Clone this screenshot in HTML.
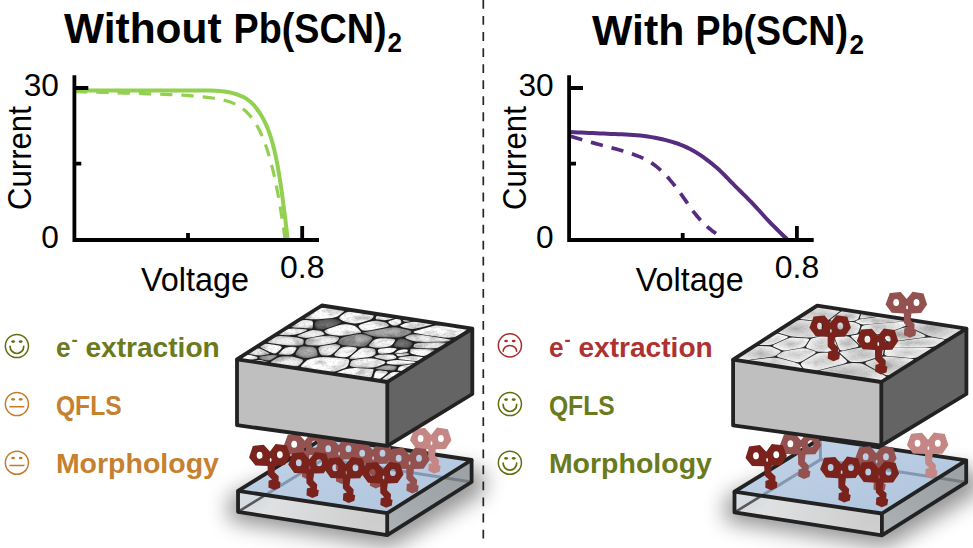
<!DOCTYPE html>
<html lang="en"><head><meta charset="utf-8"><title>Pb(SCN)2 additive: J-V and interface schematic</title>
<style>html,body{margin:0;padding:0;background:#fff}body{width:973px;height:548px;overflow:hidden}svg{display:block}text{font-family:"Liberation Sans",Arial,sans-serif}.b{font-weight:bold}</style></head><body>
<svg width="973" height="548" viewBox="0 0 973 548">
<rect width="973" height="548" fill="#fff"/>
<defs><path id="mol" fill-rule="evenodd" d="M-0.4,12.6 L3.8,1.2 L14.7,0.3 L20.7,7.3 L26.6,0 L37.5,1.6 L41.1,12.6 L35.1,21.3 L25.4,21.6 L24.6,28.2 L28.6,32.4 L28.3,37.4 L30.2,38.3 L29.4,43.8 L23.7,46 L17.9,43.2 L18.3,36.6 L21.9,35.4 L17.9,31.2 L17.8,21.6 L5.7,20.9ZM7.3,10.8 a2.9,3.5 0 1,0 5.8,0 a2.9,3.5 0 1,0 -5.8,0ZM27.6,10.8 a2.9,3.5 0 1,0 5.8,0 a2.9,3.5 0 1,0 -5.8,0ZM20.2,15.6 a0.9,1.9 0 1,0 1.8,0 a0.9,1.9 0 1,0 -1.8,0Z"/><radialGradient id="ga" cx="0.5" cy="0.5" r="0.62" fx="0.45" fy="0.45"><stop offset="0" stop-color="#ffffff"/><stop offset="0.6" stop-color="#ffffff"/><stop offset="1" stop-color="#dadada"/></radialGradient><radialGradient id="gb" cx="0.5" cy="0.5" r="0.62" fx="0.68" fy="0.36"><stop offset="0" stop-color="#ffffff"/><stop offset="0.6" stop-color="#f6f6f6"/><stop offset="1" stop-color="#b4b4b4"/></radialGradient><radialGradient id="ge" cx="0.5" cy="0.5" r="0.62" fx="0.35" fy="0.62"><stop offset="0" stop-color="#ffffff"/><stop offset="0.6" stop-color="#f8f8f8"/><stop offset="1" stop-color="#bcbcbc"/></radialGradient><radialGradient id="gf" cx="0.5" cy="0.5" r="0.62" fx="0.6" fy="0.6"><stop offset="0" stop-color="#f8f8f8"/><stop offset="0.6" stop-color="#e6e6e6"/><stop offset="1" stop-color="#a2a2a2"/></radialGradient><radialGradient id="gc" cx="0.5" cy="0.5" r="0.62" fx="0.6" fy="0.4"><stop offset="0" stop-color="#b8b8b8"/><stop offset="0.6" stop-color="#9c9c9c"/><stop offset="1" stop-color="#5c5c5c"/></radialGradient><radialGradient id="gd" cx="0.5" cy="0.5" r="0.62" fx="0.4" fy="0.6"><stop offset="0" stop-color="#7c7c7c"/><stop offset="0.6" stop-color="#626262"/><stop offset="1" stop-color="#3a3a3a"/></radialGradient><radialGradient id="ha" cx="0.5" cy="0.5" r="0.62" fx="0.45" fy="0.45"><stop offset="0" stop-color="#cdcdcd"/><stop offset="0.6" stop-color="#ececec"/><stop offset="1" stop-color="#ffffff"/></radialGradient><radialGradient id="hb" cx="0.5" cy="0.5" r="0.62" fx="0.55" fy="0.55"><stop offset="0" stop-color="#bebebe"/><stop offset="0.6" stop-color="#e4e4e4"/><stop offset="1" stop-color="#fdfdfd"/></radialGradient><radialGradient id="hc" cx="0.5" cy="0.5" r="0.62" fx="0.45" fy="0.45"><stop offset="0" stop-color="#ebebeb"/><stop offset="0.6" stop-color="#f6f6f6"/><stop offset="1" stop-color="#ffffff"/></radialGradient><radialGradient id="hd" cx="0.5" cy="0.5" r="0.62" fx="0.4" fy="0.5"><stop offset="0" stop-color="#b6b6b6"/><stop offset="0.6" stop-color="#dadada"/><stop offset="1" stop-color="#fafafa"/></radialGradient><filter id="grain" x="0" y="0" width="1" height="1"><feTurbulence type="fractalNoise" baseFrequency="0.07 0.13" numOctaves="3" seed="4"/><feColorMatrix type="matrix" values="0 0 0 0 0  0 0 0 0 0  0 0 0 0 0  3.2 0 0 0 -1.55"/></filter><filter id="grain2" x="0" y="0" width="1" height="1"><feTurbulence type="fractalNoise" baseFrequency="0.45 0.7" numOctaves="2" seed="9"/><feColorMatrix type="matrix" values="0 0 0 0 0  0 0 0 0 0  0 0 0 0 0  2.6 0 0 0 -1.2"/></filter><filter id="soft" x="-5%" y="-5%" width="110%" height="110%"><feGaussianBlur stdDeviation="0.45"/></filter><filter id="blur8" x="-30%" y="-80%" width="160%" height="260%"><feGaussianBlur stdDeviation="10.5"/></filter><linearGradient id="gtop" x1="0" y1="0" x2="1" y2="1"><stop offset="0" stop-color="#c3d4e8"/><stop offset="1" stop-color="#aec3dc"/></linearGradient><linearGradient id="gfront" x1="0" y1="0" x2="1" y2="0.3"><stop offset="0" stop-color="#d9e2e9"/><stop offset="0.3" stop-color="#f1f3f5"/><stop offset="1" stop-color="#dcdcdc"/></linearGradient><linearGradient id="gright" x1="0" y1="1" x2="1" y2="0"><stop offset="0" stop-color="#adb3b6"/><stop offset="0.5" stop-color="#a1a7aa"/><stop offset="1" stop-color="#999fa3"/></linearGradient><clipPath id="clipL"><polygon points="237,359.3 321.8,305.5 472.3,328.6 387.3,382"/></clipPath><clipPath id="clipR"><polygon points="733.1,359.6 817.2,305.6 966.4,328.6 881.3,382"/></clipPath></defs>
<polygon points="229.05,496.9 323.8,455.9 484.6,470 484.6,492 391.2,547.2 229.05,520.8" fill="#000" opacity="0.42" filter="url(#blur8)"/><polygon points="725.5,497.7 820.2,456.6 979.2,470.3 979.2,492.3 885.9,547.4 725.5,521.4" fill="#000" opacity="0.42" filter="url(#blur8)"/>
<line x1="483.3" y1="0" x2="483.3" y2="538.4" stroke="#262626" stroke-width="1.7" stroke-dasharray="8.8 7.25"/>
<text class="b" x="64" y="43" font-size="42.3" textLength="157.6" lengthAdjust="spacingAndGlyphs" fill="#000">Without</text>
<text class="b" x="233.5" y="43" font-size="42.3" textLength="153" lengthAdjust="spacingAndGlyphs" fill="#000">Pb(SCN)</text>
<text class="b" x="387.5" y="52.4" font-size="27" textLength="14.5" lengthAdjust="spacingAndGlyphs" fill="#000">2</text>
<text class="b" x="592" y="45" font-size="42.3" textLength="92.3" lengthAdjust="spacingAndGlyphs" fill="#000">With</text>
<text class="b" x="695.6" y="45" font-size="42.3" textLength="152.3" lengthAdjust="spacingAndGlyphs" fill="#000">Pb(SCN)</text>
<text class="b" x="849.5" y="54.4" font-size="27" textLength="14.5" lengthAdjust="spacingAndGlyphs" fill="#000">2</text>
<g transform="translate(0,0)">
<path d="M75,90.4 L79.67,90.4 L84.34,90.4 L89.01,90.4 L93.68,90.4 L98.35,90.4 L103.02,90.4 L107.69,90.4 L112.36,90.4 L117.04,90.4 L121.71,90.4 L126.38,90.4 L131.05,90.4 L135.72,90.4 L140.39,90.4 L145.06,90.4 L149.73,90.4 L154.4,90.4 L159.07,90.4 L163.74,90.4 L168.42,90.41 L173.09,90.41 L177.76,90.42 L182.44,90.43 L187.11,90.43 L191.78,90.44 L196.45,90.46 L201.11,90.47 L205.78,90.49 L210.45,90.52 L215.12,90.72 L219.8,91.09 L224.43,91.57 L229.04,92.25 L233.61,93.37 L238.07,94.78 L242.4,96.53 L246.56,98.81 L250.22,101.5 L253.55,104.81 L256.57,108.5 L259.28,112.28 L261.77,116.23 L264.05,120.36 L266.07,124.59 L267.85,128.87 L269.46,133.25 L270.94,137.71 L272.28,142.2 L273.49,146.71 L274.59,151.24 L275.61,155.8 L276.56,160.38 L277.44,164.98 L278.27,169.57 L279.05,174.17 L279.79,178.78 L280.49,183.4 L281.16,188.02 L281.81,192.65 L282.44,197.28 L283.07,201.91 L283.69,206.54 L284.29,211.17 L284.88,215.8 L285.46,220.44 L286.02,225.08 L286.56,229.71 L287.09,234.36 L287.6,239" fill="none" stroke="#92d050" stroke-width="4" stroke-linejoin="round"/>
<path d="M75,91.6 L79.48,91.72 L83.97,91.84 L88.45,91.97 L92.94,92.1 L97.42,92.23 L101.9,92.36 L106.39,92.49 L110.87,92.63 L115.35,92.76 L119.84,92.9 L124.32,93.04 L128.8,93.18 L133.29,93.33 L137.77,93.48 L142.25,93.63 L146.74,93.78 L151.22,93.94 L155.7,94.1 L160.19,94.25 L164.67,94.4 L169.16,94.57 L173.64,94.75 L178.12,94.95 L182.6,95.18 L187.07,95.46 L191.55,95.79 L196.03,96.17 L200.5,96.61 L204.95,97.11 L209.39,97.65 L213.86,98.28 L218.34,99.03 L222.76,99.93 L227.08,101.01 L231.26,102.35 L235.42,104.21 L239.42,106.49 L243.09,109.01 L246.41,111.82 L249.53,115.12 L252.4,118.72 L254.97,122.41 L257.27,126.19 L259.37,130.17 L261.3,134.28 L263.06,138.42 L264.69,142.58 L266.2,146.8 L267.61,151.08 L268.93,155.38 L270.18,159.68 L271.36,164.01 L272.47,168.35 L273.52,172.72 L274.51,177.1 L275.46,181.48 L276.35,185.87 L277.21,190.28 L278.04,194.69 L278.83,199.1 L279.6,203.52 L280.35,207.95 L281.07,212.37 L281.78,216.8 L282.47,221.23 L283.14,225.67 L283.79,230.11 L284.41,234.55 L285,239" fill="none" stroke="#92d050" stroke-width="3.2" stroke-dasharray="12.3 9" stroke-linejoin="round"/>
<g stroke="#000" stroke-width="3.8" fill="none" stroke-linecap="butt">
<path d="M74.4,75.2 V240 H319"/>
<path d="M74.4,88 h13.9 M74.4,163.7 h6.9"/>
<path d="M188,240 v-6.9 M302.2,240 v-13.9"/>
</g>
<g fill="#000" font-size="32">
<text x="23.7" y="96.4" textLength="35.2" lengthAdjust="spacingAndGlyphs">30</text>
<text x="41.3" y="247.7" textLength="17.6" lengthAdjust="spacingAndGlyphs">0</text>
<text x="280.1" y="278.4" textLength="44.4" lengthAdjust="spacingAndGlyphs">0.8</text>
<text x="141" y="290.5" font-size="33" textLength="108" lengthAdjust="spacingAndGlyphs">Voltage</text>
<text transform="translate(31.4,210) rotate(-90)" font-size="33" textLength="103.8" lengthAdjust="spacingAndGlyphs">Current</text>
</g></g>
<g transform="translate(494.7,0)">
<path d="M75.8,132.1 L79.48,132.26 L83.17,132.43 L86.85,132.59 L90.53,132.76 L94.22,132.92 L97.9,133.09 L101.59,133.26 L105.27,133.42 L108.95,133.59 L112.64,133.75 L116.33,133.9 L120.01,134.04 L123.7,134.18 L127.39,134.33 L131.08,134.5 L134.76,134.68 L138.43,134.9 L142.1,135.16 L145.77,135.52 L149.43,135.97 L153.09,136.51 L156.73,137.11 L160.36,137.76 L163.98,138.44 L167.58,139.23 L171.18,140.11 L174.74,141.07 L178.28,142.12 L181.77,143.24 L185.25,144.5 L188.69,145.89 L192.06,147.38 L195.36,148.98 L198.6,150.73 L201.78,152.63 L204.9,154.63 L207.95,156.69 L210.96,158.81 L213.9,161.03 L216.8,163.33 L219.65,165.7 L222.43,168.11 L225.16,170.57 L227.81,173.12 L230.42,175.72 L233,178.37 L235.56,181.04 L238.13,183.69 L240.72,186.32 L243.33,188.92 L245.96,191.51 L248.58,194.1 L251.2,196.7 L253.81,199.31 L256.39,201.94 L258.95,204.59 L261.47,207.29 L263.95,210.01 L266.42,212.75 L268.89,215.49 L271.37,218.22 L273.89,220.92 L276.45,223.57 L279.03,226.19 L281.64,228.79 L284.28,231.38 L286.93,233.94 L289.6,236.48 L292.3,239" fill="none" stroke="#552c80" stroke-width="4" stroke-linejoin="round"/>
<path d="M75.8,136.3 L78.32,137.07 L80.84,137.83 L83.36,138.58 L85.89,139.33 L88.42,140.06 L90.95,140.79 L93.48,141.51 L96.02,142.22 L98.56,142.91 L101.1,143.59 L103.65,144.27 L106.19,144.94 L108.74,145.61 L111.29,146.29 L113.83,146.98 L116.36,147.68 L118.91,148.37 L121.46,149.06 L124,149.75 L126.54,150.46 L129.07,151.19 L131.59,151.96 L134.09,152.76 L136.57,153.61 L139.07,154.49 L141.56,155.41 L144.04,156.38 L146.49,157.39 L148.89,158.47 L151.24,159.62 L153.51,160.84 L155.74,162.19 L157.93,163.66 L160.08,165.23 L162.18,166.88 L164.22,168.59 L166.21,170.33 L168.13,172.09 L169.98,173.93 L171.78,175.85 L173.53,177.83 L175.24,179.85 L176.92,181.9 L178.59,183.95 L180.24,186 L181.86,188.07 L183.45,190.17 L185.01,192.29 L186.57,194.42 L188.11,196.56 L189.63,198.71 L191.12,200.89 L192.58,203.08 L194.06,205.27 L195.56,207.44 L197.1,209.56 L198.7,211.64 L200.35,213.69 L202.04,215.73 L203.76,217.73 L205.52,219.7 L207.33,221.63 L209.17,223.49 L211.06,225.3 L213.01,227.05 L215.01,228.76 L217.06,230.42 L219.16,232.03 L221.3,233.6" fill="none" stroke="#552c80" stroke-width="3.7" stroke-dasharray="12.3 9" stroke-linejoin="round"/>
<g stroke="#000" stroke-width="3.8" fill="none" stroke-linecap="butt">
<path d="M74.4,75.2 V240 H319"/>
<path d="M74.4,88 h13.9 M74.4,163.7 h6.9"/>
<path d="M188,240 v-6.9 M302.2,240 v-13.9"/>
</g>
<g fill="#000" font-size="32">
<text x="23.7" y="96.4" textLength="35.2" lengthAdjust="spacingAndGlyphs">30</text>
<text x="41.3" y="247.7" textLength="17.6" lengthAdjust="spacingAndGlyphs">0</text>
<text x="280.1" y="278.4" textLength="44.4" lengthAdjust="spacingAndGlyphs">0.8</text>
<text x="141" y="290.5" font-size="33" textLength="108" lengthAdjust="spacingAndGlyphs">Voltage</text>
<text transform="translate(31.4,210) rotate(-90)" font-size="33" textLength="103.8" lengthAdjust="spacingAndGlyphs">Current</text>
</g></g>
<g fill="none" stroke="#626d0e" stroke-width="1.5" stroke-linecap="round"><circle cx="16.9" cy="346" r="11.55"/><ellipse cx="13.1" cy="341.6" rx="1.9" ry="1.35" fill="#626d0e" stroke="none"/><ellipse cx="20.7" cy="341.6" rx="1.9" ry="1.35" fill="#626d0e" stroke="none"/><path d="M10.1,346.4 A6.8,7.1 0 0 0 23.7,346.4" stroke-width="1.7"/></g>
<text class="b" x="55.9" y="356.5" font-size="28" fill="#6a7a1c" textLength="14.6" lengthAdjust="spacingAndGlyphs">e</text>
<text class="b" x="71.5" y="345.9" font-size="18" fill="#6a7a1c" textLength="6.2" lengthAdjust="spacingAndGlyphs">-</text>
<text class="b" x="85.5" y="356.5" font-size="28" fill="#6a7a1c" textLength="134.2" lengthAdjust="spacingAndGlyphs">extraction</text>
<g fill="none" stroke="#c47a2a" stroke-width="1.5" stroke-linecap="round"><circle cx="16.9" cy="404" r="11.55"/><ellipse cx="13.1" cy="399.3" rx="1.9" ry="1.35" fill="#c47a2a" stroke="none"/><ellipse cx="20.7" cy="399.3" rx="1.9" ry="1.35" fill="#c47a2a" stroke="none"/><path d="M9.9,406.8 h14" stroke-width="1.4"/></g>
<text class="b" x="55.9" y="414.7" font-size="28" fill="#c58130" textLength="65.8" lengthAdjust="spacingAndGlyphs">QFLS</text>
<g fill="none" stroke="#c47a2a" stroke-width="1.5" stroke-linecap="round"><circle cx="16.9" cy="462.7" r="11.55"/><ellipse cx="13.1" cy="458" rx="1.9" ry="1.35" fill="#c47a2a" stroke="none"/><ellipse cx="20.7" cy="458" rx="1.9" ry="1.35" fill="#c47a2a" stroke="none"/><path d="M9.9,465.5 h14" stroke-width="1.4"/></g>
<text class="b" x="55.9" y="472.85" font-size="28" fill="#c58130" textLength="163" lengthAdjust="spacingAndGlyphs">Morphology</text>
<g fill="none" stroke="#a82c2c" stroke-width="1.5" stroke-linecap="round"><circle cx="509.9" cy="345.4" r="11.55"/><ellipse cx="506.1" cy="341" rx="1.9" ry="1.35" fill="#a82c2c" stroke="none"/><ellipse cx="513.7" cy="341" rx="1.9" ry="1.35" fill="#a82c2c" stroke="none"/><path d="M503.2,351.3 A6.7,5.9 0 0 1 516.6,351.3" stroke-width="1.5"/></g>
<text class="b" x="548.9" y="356.5" font-size="28" fill="#ad3231" textLength="14.6" lengthAdjust="spacingAndGlyphs">e</text>
<text class="b" x="564.5" y="345.9" font-size="18" fill="#ad3231" textLength="6.2" lengthAdjust="spacingAndGlyphs">-</text>
<text class="b" x="578.5" y="356.5" font-size="28" fill="#ad3231" textLength="134.2" lengthAdjust="spacingAndGlyphs">extraction</text>
<g fill="none" stroke="#626d0e" stroke-width="1.5" stroke-linecap="round"><circle cx="509.9" cy="404" r="11.55"/><ellipse cx="506.1" cy="399.6" rx="1.9" ry="1.35" fill="#626d0e" stroke="none"/><ellipse cx="513.7" cy="399.6" rx="1.9" ry="1.35" fill="#626d0e" stroke="none"/><path d="M503.1,404.4 A6.8,7.1 0 0 0 516.7,404.4" stroke-width="1.7"/></g>
<text class="b" x="548.9" y="414.7" font-size="28" fill="#6a7a1c" textLength="65.8" lengthAdjust="spacingAndGlyphs">QFLS</text>
<g fill="none" stroke="#626d0e" stroke-width="1.5" stroke-linecap="round"><circle cx="509.9" cy="462.7" r="11.55"/><ellipse cx="506.1" cy="458.3" rx="1.9" ry="1.35" fill="#626d0e" stroke="none"/><ellipse cx="513.7" cy="458.3" rx="1.9" ry="1.35" fill="#626d0e" stroke="none"/><path d="M503.1,463.1 A6.8,7.1 0 0 0 516.7,463.1" stroke-width="1.7"/></g>
<text class="b" x="548.9" y="472.85" font-size="28" fill="#6a7a1c" textLength="163" lengthAdjust="spacingAndGlyphs">Morphology</text>
<g><polygon points="238.05,490.9 387.2,513.2 387.2,535.2 238.05,511.8" fill="url(#gfront)" opacity="0.8"/><polygon points="387.2,513.2 471.6,460 471.6,482 387.2,535.2" fill="url(#gright)" opacity="0.96"/><path d="M238.05,511.8 L324,459" fill="none" stroke="#585858" stroke-width="2.6"/><path d="M324,459 L471.6,482" fill="none" stroke="#737d83" stroke-width="3"/><polygon points="238.05,490.9 323.8,437.9 471.6,460 387.2,513.2" fill="url(#gtop)"/><clipPath id="gcl"><polygon points="238.05,490.9 323.8,437.9 471.6,460 387.2,513.2"/></clipPath><path clip-path="url(#gcl)" d="M238.05,511.8 L324,459 L471.6,482 M323.8,437.9 L324,459" fill="none" stroke="#7c92ab" stroke-opacity="0.9" stroke-width="3" stroke-linejoin="round"/><g fill="none" stroke="#222" stroke-width="3.8" stroke-linejoin="round"><polygon points="238.05,490.9 323.8,437.9 471.6,460 387.2,513.2"/><path d="M238.05,490.9 L238.05,511.8 L387.2,535.2 L471.6,482 L471.6,460 M387.2,513.2 L387.2,535.2"/></g><use href="#mol" transform="translate(410.4,427.6)" fill="#c48785"/><use href="#mol" transform="translate(284,433.5)" fill="#93524f"/><use href="#mol" transform="translate(318,438)" fill="#93524f"/><use href="#mol" transform="translate(352,442.5)" fill="#93524f"/><use href="#mol" transform="translate(388.5,447.5)" fill="#93524f"/><use href="#mol" transform="translate(249.8,444.2) rotate(-2 20.4 23)" fill="#7a231c"/><use href="#mol" transform="translate(288.6,452)" fill="#7a231c"/><use href="#mol" transform="translate(325,457)" fill="#7a231c"/><use href="#mol" transform="translate(362.4,461.8)" fill="#7a231c"/><polygon points="237,359.3 387.3,382 387.3,445.8 237,425.2" fill="#bfbfbf"/><polygon points="387.3,382 472.3,328.6 472.3,394 387.3,445.8" fill="#646464"/><g clip-path="url(#clipL)"><g filter="url(#soft)"><polygon points="231.12,360.08 320.16,303.59 478.19,327.84 388.94,383.91" fill="#242424"/><path d="M390.82,320.6 Q387.14,321.73 388.75,322.97L390.57,324.37 Q392.18,325.61 393.79,325.55L395.6,325.48 Q397.2,325.42 398.68,324.58L400.34,323.63 Q401.81,322.79 401.17,321.34L400.45,319.71 Q399.81,318.27 399.44,318.25L399.01,318.22 Q398.64,318.2 394.96,319.33Z" fill="url(#ga)"/><path d="M349.97,364.82 Q349.32,367.13 357.05,367.41L365.74,367.73 Q373.47,368.01 377.08,366.64L381.13,365.11 Q384.74,363.75 384.98,362.99L385.26,362.15 Q385.5,361.39 381.11,360.26L376.17,358.98 Q371.78,357.84 365.24,358.5L357.88,359.25 Q351.34,359.91 350.69,362.22Z" fill="url(#gb)"/><path d="M329.81,328.32 Q323.23,330.54 324.68,331.8L326.31,333.22 Q327.76,334.49 332.13,334.98L337.04,335.53 Q341.41,336.02 347.66,334.93L354.68,333.69 Q360.93,332.6 361.03,332.47L361.15,332.33 Q361.25,332.2 359.36,330.11L357.24,327.76 Q355.35,325.67 351.65,325L347.5,324.26 Q343.81,323.59 337.22,325.82Z" fill="url(#ga)"/><path d="M268.39,340.14 Q264.78,342.3 271.38,343.25L278.8,344.32 Q285.4,345.26 289.41,345.39L293.92,345.54 Q297.93,345.66 299.66,345.38L301.61,345.06 Q303.34,344.78 303.55,342.95L303.79,340.9 Q304,339.08 300.79,338.39L297.17,337.62 Q293.95,336.93 288.22,336.49L281.78,335.99 Q276.05,335.55 272.45,337.71Z" fill="url(#gf)"/><path d="M352.52,355.01 Q348.72,358.18 349.67,358.53L350.74,358.93 Q351.69,359.29 357.88,358.45L364.85,357.51 Q371.05,356.67 372.59,355.9L374.32,355.03 Q375.87,354.27 375.71,352.62L375.52,350.76 Q375.36,349.11 372.45,348.62L369.18,348.08 Q366.27,347.59 364.45,347.81L362.41,348.05 Q360.59,348.27 356.79,351.44Z" fill="url(#ge)"/><path d="M308.47,314.58 Q302.08,318.43 306.25,318.78L310.94,319.17 Q315.11,319.52 321.69,318.96L329.09,318.33 Q335.68,317.76 339.23,315.15L343.22,312.21 Q346.77,309.6 338.86,308.58L329.97,307.43 Q322.06,306.4 315.66,310.25Z" fill="url(#ga)"/><path d="M390.27,360.83 Q387,361.39 386.76,362.13L386.49,362.97 Q386.25,363.71 390.36,364.14L394.99,364.63 Q399.1,365.06 404.67,364.38L410.94,363.62 Q416.5,362.94 416.91,362.69L417.37,362.42 Q417.78,362.17 411.2,361.36L403.8,360.44 Q397.23,359.62 393.96,360.19Z" fill="url(#ga)"/><path d="M403.28,320.87 Q404,322.29 408.2,321.58L412.92,320.79 Q417.11,320.09 412.19,319.38L406.67,318.58 Q401.75,317.87 402.47,319.28Z" fill="url(#gb)"/><path d="M338.65,371.7 Q333.4,373.58 345.39,375.3L358.87,377.24 Q370.86,378.96 371.79,375.9L372.84,372.46 Q373.78,369.4 373.43,369.22L373.03,369.02 Q372.69,368.84 365.36,368.48L357.13,368.07 Q349.8,367.71 344.55,369.59Z" fill="url(#ga)"/><path d="M296.18,352.58 Q294.47,355.28 298.16,356.28L302.32,357.4 Q306.01,358.39 310.01,357.64L314.5,356.8 Q318.49,356.05 317.5,353.13L316.39,349.84 Q315.4,346.93 311.98,346.68L308.13,346.4 Q304.72,346.15 303.15,346.37L301.39,346.61 Q299.83,346.82 298.11,349.53Z" fill="url(#gc)"/><path d="M413.39,346.28 Q412.47,348 420.54,348.24L429.61,348.51 Q437.67,348.75 441.36,346.62L445.52,344.21 Q449.21,342.08 438.37,342.26L426.18,342.46 Q415.34,342.63 414.42,344.35Z" fill="url(#gf)"/><path d="M252.63,360.64 Q249.66,361.08 255.71,361.97L262.51,362.98 Q268.56,363.87 268.37,363.21L268.16,362.48 Q267.97,361.82 265.08,361.14L261.82,360.37 Q258.93,359.69 255.97,360.14Z" fill="url(#gb)"/><path d="M384.13,377.77 Q380.9,380.22 383.19,380.39L385.77,380.58 Q388.07,380.75 392.34,378.13L397.14,375.18 Q401.41,372.55 399.45,372.33L397.23,372.07 Q395.27,371.85 393.9,372.08L392.37,372.34 Q391,372.57 387.77,375.02Z" fill="url(#ga)"/><path d="M319.58,352.87 Q320.53,355.8 323.99,355.6L327.88,355.38 Q331.34,355.18 334.52,352.18L338.09,348.8 Q341.26,345.79 339.54,345.13L337.6,344.39 Q335.87,343.73 330.01,344.67L323.42,345.72 Q317.56,346.65 318.51,349.58Z" fill="url(#gf)"/><path d="M402.76,356.75 Q399.05,357.27 398.66,357.82L398.22,358.44 Q397.83,359 404.12,359.84L411.2,360.79 Q417.49,361.63 419.89,360.27L422.58,358.74 Q424.98,357.38 420.39,356.83L415.23,356.21 Q410.64,355.66 406.93,356.18Z" fill="url(#gb)"/><path d="M406.53,336.18 Q403.56,337.43 407.22,338.92L411.34,340.59 Q414.99,342.08 426.05,341.97L438.49,341.84 Q449.54,341.73 450.62,341.08L451.84,340.34 Q452.92,339.68 440.09,337.71L425.66,335.5 Q412.83,333.53 409.86,334.78Z" fill="url(#gf)"/><path d="M279.89,332.77 Q276.09,334.95 281.87,335.07L288.37,335.21 Q294.14,335.33 299.29,333.44L305.08,331.32 Q310.22,329.43 303.09,329.02L295.07,328.56 Q287.94,328.15 284.15,330.32Z" fill="url(#ge)"/><path d="M263.39,355.99 Q259.48,356.57 259.3,357.28L259.1,358.09 Q258.92,358.8 262.19,359.48L265.86,360.25 Q269.12,360.93 271.94,359.16L275.12,357.17 Q277.94,355.4 277.4,355.25L276.81,355.08 Q276.27,354.94 274.81,354.88L273.16,354.82 Q271.7,354.77 267.79,355.35Z" fill="url(#gc)"/><path d="M395.83,352.2 Q394.03,353.39 394.49,353.5L395,353.62 Q395.46,353.73 399.31,353.29L403.65,352.79 Q407.5,352.35 407.68,351.29L407.89,350.1 Q408.07,349.04 405.38,349.24L402.35,349.47 Q399.67,349.68 397.86,350.87Z" fill="url(#gb)"/><path d="M300.68,334.16 Q295.6,336.03 298.85,336.77L302.51,337.6 Q305.76,338.34 312.18,337.14L319.41,335.8 Q325.83,334.61 324.38,333.38L322.75,332 Q321.3,330.77 318.8,330.48L315.99,330.15 Q313.49,329.86 312.85,329.96L312.12,330.08 Q311.48,330.19 306.4,332.05Z" fill="url(#gf)"/><path d="M372.17,330.72 Q363.25,332.31 363.15,332.44L363.03,332.59 Q362.93,332.72 366.96,334.17L371.49,335.81 Q375.52,337.27 382.33,337.37L389.99,337.49 Q396.8,337.59 398.35,337.41L400.08,337.21 Q401.62,337.03 404.59,335.78L407.93,334.38 Q410.9,333.14 411.15,332.46L411.43,331.7 Q411.67,331.02 406.91,329.8L401.55,328.42 Q396.78,327.19 394.98,327.24L392.94,327.3 Q391.14,327.34 382.21,328.93Z" fill="url(#gc)"/><path d="M370.11,343.71 Q367.64,346.3 370.68,346.84L374.1,347.45 Q377.15,347.99 381.61,347.5L386.62,346.95 Q391.09,346.47 392.86,343.91L394.86,341.04 Q396.63,338.49 389.82,338.4L382.16,338.3 Q375.35,338.21 372.88,340.8Z" fill="url(#gb)"/><path d="M280.41,352 Q278.25,354.33 278.77,354.47L279.36,354.62 Q279.88,354.75 283.88,354.85L288.38,354.96 Q292.38,355.05 294.12,352.35L296.09,349.3 Q297.84,346.59 293.73,346.73L289.11,346.9 Q285.01,347.04 282.85,349.38Z" fill="url(#gb)"/><path d="M335.69,352.86 Q332.4,356.05 337.2,356.62L342.6,357.27 Q347.39,357.85 351.17,354.56L355.42,350.86 Q359.2,347.57 353.91,347.1L347.95,346.57 Q342.66,346.1 339.38,349.28Z" fill="url(#ga)"/><path d="M375.75,317.66 Q375.06,319.2 378.3,319.6L381.95,320.04 Q385.19,320.43 389.22,319.42L393.76,318.28 Q397.79,317.27 391.21,316.35L383.8,315.31 Q377.22,314.39 376.53,315.93Z" fill="url(#ga)"/><path d="M410.12,351.32 Q409.98,352.42 410.62,352.94L411.33,353.53 Q411.96,354.06 416.22,354.91L421,355.87 Q425.26,356.72 429.29,354.36L433.82,351.71 Q437.85,349.36 429.61,349.16L420.34,348.94 Q412.1,348.75 411.56,348.83L410.96,348.91 Q410.42,348.99 410.28,350.09Z" fill="url(#ge)"/><path d="M421.86,328.92 Q414.14,330.95 413.89,331.61L413.61,332.36 Q413.36,333.03 425.93,334.94L440.06,337.09 Q452.63,339.01 458.38,335.59L464.85,331.74 Q470.61,328.32 460.25,327.13L448.6,325.79 Q438.25,324.6 430.54,326.63Z" fill="url(#ga)"/><path d="M273.62,359.98 Q270.61,361.78 270.78,362.47L270.96,363.24 Q271.12,363.93 279.28,365.14L288.46,366.5 Q296.61,367.7 299.13,365.13L301.96,362.24 Q304.48,359.67 300.53,358.64L296.08,357.49 Q292.13,356.47 288.25,356.37L283.89,356.26 Q280.01,356.16 277,357.96Z" fill="url(#gf)"/><path d="M362.48,323.65 Q357.22,325.21 359.09,327.32L361.2,329.69 Q363.07,331.79 371.8,330.04L381.63,328.07 Q390.36,326.31 388.66,324.91L386.75,323.33 Q385.05,321.93 381.4,321.43L377.3,320.85 Q373.66,320.35 368.4,321.9Z" fill="url(#ge)"/><path d="M267.8,350.89 Q272.11,352.9 273.43,353.17L274.92,353.49 Q276.24,353.76 278.51,351.36L281.07,348.65 Q283.34,346.25 277.39,345.27L270.69,344.18 Q264.73,343.21 262.78,344.3L260.59,345.53 Q258.64,346.62 262.95,348.63Z" fill="url(#ga)"/><path d="M373.8,376.21 Q372.9,379.06 375.02,379.25L377.4,379.46 Q379.51,379.65 382.77,377.05L386.44,374.12 Q389.7,371.51 385.22,371.08L380.18,370.59 Q375.7,370.16 374.81,373.01Z" fill="url(#ga)"/><path d="M378.59,367.4 Q375.2,368.52 375.55,368.7L375.95,368.91 Q376.3,369.09 380.61,369.5L385.45,369.96 Q389.76,370.37 391.47,370.42L393.39,370.48 Q395.11,370.52 395.86,369.08L396.7,367.46 Q397.45,366.02 393.72,365.7L389.53,365.34 Q385.8,365.02 382.41,366.14Z" fill="url(#gc)"/><path d="M400.59,325.37 Q398.85,326.41 403.35,327.45L408.42,328.61 Q412.92,329.64 420.63,327.57L429.31,325.25 Q437.03,323.19 430.75,322.51L423.69,321.74 Q417.41,321.05 413.22,321.73L408.5,322.49 Q404.3,323.16 402.55,324.2Z" fill="url(#ge)"/><path d="M312.35,337.82 Q305.8,339 305.58,340.87L305.32,342.97 Q305.1,344.84 308.9,345.16L313.18,345.51 Q316.97,345.83 323.05,344.88L329.89,343.81 Q335.97,342.86 337.29,341L338.78,338.91 Q340.1,337.04 335.67,336.49L330.69,335.86 Q326.26,335.3 319.71,336.48Z" fill="url(#gf)"/><path d="M397.84,369.14 Q397.09,370.58 398.98,370.83L401.11,371.12 Q403,371.38 407.34,368.78L412.22,365.84 Q416.56,363.24 411.09,364.15L404.92,365.17 Q399.45,366.08 398.69,367.52Z" fill="url(#ga)"/><path d="M314.84,325.97 Q314.68,328.64 317.24,328.99L320.12,329.39 Q322.67,329.74 329.09,327.47L336.31,324.91 Q342.73,322.64 340.5,321.32L337.99,319.82 Q335.76,318.5 329.18,319.07L321.76,319.71 Q315.17,320.29 315.02,322.96Z" fill="url(#gd)"/><path d="M399.28,353.84 Q395.24,354.3 396.38,355.07L397.65,355.94 Q398.78,356.71 402.33,356L406.33,355.21 Q409.88,354.5 409.24,353.98L408.52,353.39 Q407.88,352.87 403.83,353.33Z" fill="url(#ge)"/><path d="M292.74,324.83 Q288.44,327.27 295.42,327.67L303.27,328.12 Q310.24,328.52 311.03,328.49L311.91,328.46 Q312.69,328.43 312.86,325.92L313.04,323.1 Q313.2,320.59 309.58,320.28L305.5,319.93 Q301.87,319.62 297.58,322.07Z" fill="url(#gb)"/><path d="M240.52,357.64 Q237.79,359.21 241.29,359.55L245.24,359.94 Q248.74,360.28 251.45,359.83L254.5,359.32 Q257.21,358.87 257.38,358.16L257.57,357.37 Q257.75,356.66 254.09,355.91L249.98,355.06 Q246.33,354.31 243.6,355.88Z" fill="url(#ga)"/><path d="M341.36,315.6 Q337.95,318.04 340.19,319.33L342.7,320.79 Q344.94,322.08 348.53,322.65L352.57,323.28 Q356.15,323.85 361.3,322.4L367.09,320.76 Q372.24,319.31 372.99,317.6L373.84,315.67 Q374.59,313.97 366.28,312.83L356.93,311.56 Q348.62,310.42 345.21,312.86Z" fill="url(#ga)"/><path d="M374.83,356.35 Q373.26,357.16 377.55,358.14L382.37,359.24 Q386.66,360.23 389.48,359.76L392.66,359.24 Q395.48,358.77 395.86,358.25L396.28,357.65 Q396.65,357.13 395.51,356.35L394.23,355.48 Q393.09,354.71 392.64,354.61L392.14,354.5 Q391.7,354.4 387.37,354.47L382.51,354.55 Q378.18,354.62 376.61,355.43Z" fill="url(#gb)"/><path d="M250.11,351.6 Q246.64,353.65 250.45,354.3L254.73,355.04 Q258.53,355.69 262.71,355.18L267.41,354.6 Q271.59,354.09 267.08,351.9L262,349.43 Q257.49,347.23 254.02,349.29Z" fill="url(#gf)"/><path d="M338.78,341.05 Q337.47,342.9 339.26,343.64L341.27,344.48 Q343.06,345.22 348.29,345.72L354.17,346.29 Q359.4,346.79 361.51,346.6L363.87,346.39 Q365.97,346.21 368.5,343.48L371.34,340.41 Q373.86,337.69 369.9,336.28L365.44,334.69 Q361.48,333.28 355.1,334.51L347.93,335.89 Q341.55,337.12 340.25,338.97Z" fill="url(#gc)"/><path d="M311.26,358.83 Q306.94,359.7 304.35,362.45L301.43,365.55 Q298.84,368.3 309.42,369.71L321.32,371.29 Q331.9,372.7 336.94,370.89L342.61,368.85 Q347.66,367.03 348.29,364.76L349.01,362.19 Q349.65,359.92 348.69,359.54L347.6,359.12 Q346.64,358.74 341.75,358.25L336.24,357.69 Q331.35,357.2 327.86,357.13L323.94,357.06 Q320.45,356.99 316.13,357.86Z" fill="url(#ga)"/><path d="M394.83,344.11 Q393.15,346.52 395.27,346.92L397.66,347.36 Q399.78,347.75 402.56,347.8L405.69,347.86 Q408.47,347.91 409,347.84L409.59,347.76 Q410.12,347.69 411,346.05L412,344.2 Q412.89,342.56 409.63,341.25L405.97,339.79 Q402.71,338.48 401.33,338.64L399.77,338.81 Q398.38,338.97 396.71,341.39Z" fill="url(#gd)"/><path d="M378.08,352.31 Q378.24,353.91 382.51,353.63L387.32,353.33 Q391.59,353.06 393.53,351.67L395.71,350.11 Q397.65,348.72 395.53,348.35L393.14,347.94 Q391.03,347.57 386.77,348L381.99,348.48 Q377.74,348.91 377.9,350.51Z" fill="url(#ga)"/></g><polygon points="237,359.3 321.8,305.5 472.3,328.6 387.3,382" fill="#000" filter="url(#grain)" opacity="0.22"/><polygon points="237,359.3 321.8,305.5 472.3,328.6 387.3,382" fill="#000" filter="url(#grain2)" opacity="0.12"/></g><g fill="none" stroke="#222" stroke-width="3.8" stroke-linejoin="round"><polygon points="237,359.3 321.8,305.5 472.3,328.6 387.3,382"/><path d="M237,359.3 L237,425.2 L387.3,445.8 L472.3,394 L472.3,328.6 M387.3,382 L387.3,445.8"/></g></g>
<g><polygon points="734.5,491.7 881.9,513.5 881.9,535.4 734.5,512.4" fill="url(#gfront)" opacity="0.8"/><polygon points="881.9,513.5 966.2,460.3 966.2,482.3 881.9,535.4" fill="url(#gright)" opacity="0.96"/><path d="M734.5,512.4 L820.5,459.6" fill="none" stroke="#585858" stroke-width="2.6"/><path d="M820.5,459.6 L966.2,482.3" fill="none" stroke="#737d83" stroke-width="3"/><polygon points="734.5,491.7 820.2,438.6 966.2,460.3 881.9,513.5" fill="url(#gtop)"/><clipPath id="gcr"><polygon points="734.5,491.7 820.2,438.6 966.2,460.3 881.9,513.5"/></clipPath><path clip-path="url(#gcr)" d="M734.5,512.4 L820.5,459.6 L966.2,482.3 M820.2,438.6 L820.5,459.6" fill="none" stroke="#7c92ab" stroke-opacity="0.9" stroke-width="3" stroke-linejoin="round"/><g fill="none" stroke="#222" stroke-width="3.8" stroke-linejoin="round"><polygon points="734.5,491.7 820.2,438.6 966.2,460.3 881.9,513.5"/><path d="M734.5,491.7 L734.5,512.4 L881.9,535.4 L966.2,482.3 L966.2,460.3 M881.9,513.5 L881.9,535.4"/></g><use href="#mol" transform="translate(907.3,432.5)" fill="#c48785"/><use href="#mol" transform="translate(780.2,433)" fill="#93524f"/><use href="#mol" transform="translate(855.5,446)" fill="#93524f"/><use href="#mol" transform="translate(746.4,444.4) rotate(-3 20.4 23)" fill="#7a231c"/><use href="#mol" transform="translate(820.5,456.6)" fill="#7a231c"/><use href="#mol" transform="translate(858,461.2)" fill="#7a231c"/><polygon points="733.1,359.6 881.3,382 881.3,445.6 733.1,425.4" fill="#bfbfbf"/><polygon points="881.3,382 966.4,328.6 966.4,394 881.3,445.6" fill="#646464"/><g clip-path="url(#clipR)"><g filter="url(#soft)"><polygon points="727.29,360.39 815.6,303.69 972.26,327.84 882.9,383.91" fill="#2c2c2c"/><path d="M907.69,325.12 Q907.29,326.06 911.63,328.06L924.66,334.06 Q929,336.06 932.49,336.73L942.95,338.74 Q946.43,339.41 950.08,337.13L961.03,330.29 Q964.68,328.01 953.99,326.42L921.94,321.64 Q911.26,320.05 910.87,320.31L909.7,321.11 Q909.3,321.37 908.9,322.31Z" fill="url(#hd)"/><path d="M884.49,353.89 Q884.24,355.58 890.74,356.18L910.25,357.96 Q916.75,358.55 920.29,356.35L930.92,349.76 Q934.46,347.56 924.66,347.46L895.29,347.19 Q885.49,347.1 885.24,348.8Z" fill="url(#ha)"/><path d="M749.9,360.3 Q743.43,361.08 755.44,362.89L791.46,368.31 Q803.47,370.12 802.51,368.78L799.64,364.77 Q798.69,363.43 794.1,362.18L780.34,358.41 Q775.75,357.16 769.29,357.95Z" fill="url(#ha)"/><path d="M806.55,345.66 Q805.42,347.47 807.94,348.33L815.49,350.91 Q818.01,351.77 821.98,351.81L833.9,351.93 Q837.88,351.97 838.15,351.83L838.96,351.4 Q839.23,351.26 838.07,348.39L834.62,339.76 Q833.47,336.89 831.21,336.73L824.43,336.26 Q822.17,336.11 819.95,336.57L813.28,337.95 Q811.06,338.41 809.93,340.22Z" fill="url(#ha)"/><path d="M838.83,348.2 Q839.97,351.06 843.96,350.16L855.91,347.47 Q859.9,346.57 857.71,344.48L851.13,338.18 Q848.94,336.09 846.01,336.23L837.22,336.64 Q834.29,336.78 835.43,339.64Z" fill="url(#hb)"/><path d="M858.89,344.13 Q861.11,346.2 865.56,346.17L878.91,346.07 Q883.36,346.04 883.93,345.31L885.65,343.1 Q886.22,342.36 885.2,340.97L882.13,336.81 Q881.11,335.42 876.8,335.16L863.87,334.36 Q859.57,334.1 857.66,334.44L851.94,335.49 Q850.03,335.83 852.25,337.91Z" fill="url(#hc)"/><path d="M887.3,333.36 Q882.56,335.07 883.58,336.5L886.64,340.78 Q887.66,342.2 895.82,341.11L920.32,337.83 Q928.49,336.74 924.04,334.69L910.7,328.55 Q906.25,326.5 901.51,328.22Z" fill="url(#hd)"/><path d="M844.49,350.69 Q840.46,351.51 840.18,351.65L839.36,352.08 Q839.09,352.23 841.29,354.18L847.9,360.06 Q850.11,362.02 852.59,362L860.05,361.95 Q862.53,361.94 866.59,360.67L878.77,356.86 Q882.84,355.59 883.09,353.9L883.87,348.83 Q884.13,347.14 883.99,347.04L883.58,346.75 Q883.45,346.65 878.89,346.8L865.2,347.26 Q860.64,347.41 856.61,348.23Z" fill="url(#hb)"/><path d="M831.53,318.73 Q828.67,320.93 833.68,320.97L848.69,321.07 Q853.69,321.1 854.6,320.7L857.33,319.5 Q858.24,319.1 858.68,317.78L860.02,313.79 Q860.46,312.46 856.96,311.96L846.46,310.43 Q842.95,309.93 840.1,312.13Z" fill="url(#hb)"/><path d="M777.17,355.51 Q775.74,356.53 780.45,357.83L794.56,361.72 Q799.27,363.02 802.86,360.85L813.62,354.36 Q817.21,352.2 814.68,351.33L807.08,348.7 Q804.54,347.82 800.21,348.54L787.22,350.69 Q782.89,351.41 781.46,352.43Z" fill="url(#ha)"/><path d="M801.21,316.28 Q797.14,318.8 802.21,319.33L817.4,320.93 Q822.46,321.46 823.48,321.3L826.51,320.81 Q827.53,320.65 830.4,318.44L839.02,311.81 Q841.89,309.6 837,308.92L822.34,306.88 Q817.45,306.2 813.39,308.72Z" fill="url(#hb)"/><path d="M775.34,344.06 Q771.58,345.72 773.86,346.75L780.7,349.85 Q782.98,350.88 787.23,350.17L799.99,348.06 Q804.25,347.36 805.38,345.56L808.8,340.18 Q809.94,338.39 806.02,338.2L794.27,337.63 Q790.36,337.45 786.6,339.1Z" fill="url(#ha)"/><path d="M738.3,356.7 Q733.87,359.42 735.78,359.68L741.5,360.46 Q743.41,360.72 749.63,359.86L768.29,357.28 Q774.51,356.41 775.93,355.41L780.21,352.38 Q781.64,351.38 779.36,350.35L772.51,347.26 Q770.23,346.23 767.39,346.15L758.87,345.89 Q756.04,345.81 751.6,348.53Z" fill="url(#hb)"/><path d="M864.24,318.67 Q859.52,319.3 858.58,319.75L855.76,321.08 Q854.81,321.53 856.27,322.17L860.63,324.08 Q862.08,324.72 871.27,324L898.81,321.82 Q908,321.09 908.39,320.82L909.58,320.01 Q909.98,319.73 904.61,319.01L888.5,316.84 Q883.13,316.11 878.41,316.75Z" fill="url(#hb)"/><path d="M860,317.72 Q859.56,319 864.21,318.33L878.17,316.31 Q882.82,315.63 878.6,315.02L865.95,313.18 Q861.73,312.57 861.3,313.85Z" fill="url(#hd)"/><path d="M760.16,342.51 Q756.32,344.92 759.28,344.96L768.17,345.1 Q771.13,345.14 774.81,343.49L785.85,338.54 Q789.53,336.89 786.73,336.09L778.32,333.68 Q775.52,332.87 771.68,335.28Z" fill="url(#hc)"/><path d="M822.92,332.75 Q822.82,335.35 825.14,335.47L832.09,335.86 Q834.41,335.99 837.24,335.82L845.72,335.31 Q848.55,335.14 850.44,334.8L856.12,333.79 Q858.01,333.45 858.55,331.77L860.16,326.72 Q860.69,325.03 859.25,324.42L854.93,322.56 Q853.49,321.95 848.53,321.85L833.66,321.57 Q828.7,321.47 827.63,321.65L824.4,322.19 Q823.32,322.37 823.22,324.96Z" fill="url(#hd)"/><path d="M867.2,361.4 Q863.04,362.72 868.13,365.54L883.42,374 Q888.51,376.82 894.17,373.25L911.14,362.53 Q916.8,358.95 910.21,358.39L890.44,356.71 Q883.85,356.15 879.69,357.47Z" fill="url(#hd)"/><path d="M803.65,361.29 Q800.1,363.41 801.04,364.74L803.84,368.72 Q804.78,370.04 806.69,370.29L812.45,371.02 Q814.36,371.27 821.25,369.51L841.92,364.21 Q848.81,362.45 846.6,360.46L839.96,354.51 Q837.74,352.52 833.77,352.58L821.84,352.75 Q817.86,352.8 814.31,354.92Z" fill="url(#ha)"/><path d="M895.96,341.42 Q887.84,342.52 887.26,343.28L885.49,345.57 Q884.9,346.34 885.04,346.44L885.45,346.74 Q885.59,346.84 895.35,346.93L924.62,347.23 Q934.38,347.33 936.77,345.83L943.94,341.35 Q946.33,339.85 942.74,339.29L932,337.6 Q928.42,337.03 920.3,338.13Z" fill="url(#hb)"/><path d="M780.52,329.64 Q776.44,332.18 779.32,333.04L787.95,335.61 Q790.83,336.46 794.69,336.71L806.25,337.45 Q810.11,337.69 812.37,337.24L819.14,335.88 Q821.4,335.43 821.51,332.82L821.83,324.99 Q821.94,322.37 816.92,321.8L801.86,320.08 Q796.84,319.5 792.76,322.04Z" fill="url(#hd)"/><path d="M821.84,370.05 Q814.78,371.82 827.94,373.78L867.43,379.69 Q880.59,381.65 882.02,380.76L886.32,378.09 Q887.76,377.2 882.65,374.44L867.32,366.19 Q862.21,363.44 859.79,363.35L852.5,363.08 Q850.07,362.99 843.01,364.76Z" fill="url(#hd)"/><path d="M871.34,324.25 Q862.2,324.99 861.66,326.69L860.04,331.8 Q859.5,333.5 864.02,333.67L877.58,334.18 Q882.1,334.35 886.85,332.69L901.08,327.7 Q905.83,326.04 906.25,325.09L907.5,322.26 Q907.92,321.31 898.77,322.05Z" fill="url(#ha)"/></g><polygon points="733.1,359.6 817.2,305.6 966.4,328.6 881.3,382" fill="#000" filter="url(#grain)" opacity="0.1"/><polygon points="733.1,359.6 817.2,305.6 966.4,328.6 881.3,382" fill="#000" filter="url(#grain2)" opacity="0.06"/></g><g fill="none" stroke="#222" stroke-width="3.8" stroke-linejoin="round"><polygon points="733.1,359.6 817.2,305.6 966.4,328.6 881.3,382"/><path d="M733.1,359.6 L733.1,425.4 L881.3,445.6 L966.4,394 L966.4,328.6 M881.3,382 L881.3,445.6"/></g><use href="#mol" transform="translate(886,291.8)" fill="#93524f"/><use href="#mol" transform="translate(809.8,315.2)" fill="#7a231c"/><use href="#mol" transform="translate(857.2,328.4)" fill="#7a231c"/></g>
</svg></body></html>
